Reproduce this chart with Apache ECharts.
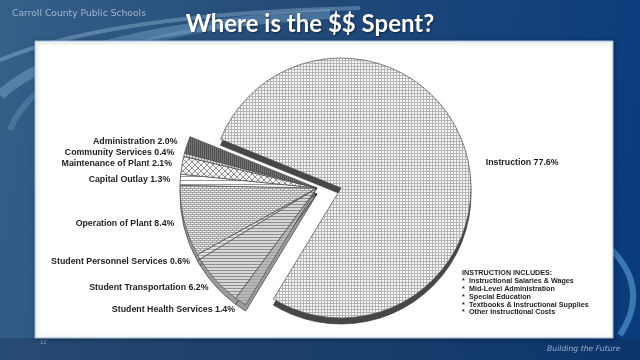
<!DOCTYPE html>
<html><head><meta charset="utf-8">
<script src="https://cdn.jsdelivr.net/npm/echarts@6/dist/echarts.min.js"></script>
<style>html,body{margin:0;padding:0;background:#2a4d78}#c{width:640px;height:360px}</style>
</head><body><div id="c"></div>
<script>
// ---- data ----
const categories = ['Instruction','Student Health Services','Student Transportation','Student Personnel Services','Operation of Plant','Capital Outlay','Maintenance of Plant','Community Services','Administration'];
const values = [77.6, 1.4, 6.2, 0.6, 8.4, 1.3, 2.1, 0.4, 2.0];
const includesTitle = 'INSTRUCTION INCLUDES:';
const includesItems = ['Instructional Salaries & Wages','Mid-Level Administration','Special Education','Textbooks & Instructional Supplies','Other Instructional Costs'];

// ---- patterns ----
function pat(size, bg, draw){
  const c=document.createElement('canvas'); c.width=c.height=size;
  const g=c.getContext('2d'); g.fillStyle=bg; g.fillRect(0,0,size,size); draw(g,size);
  return {image:c, repeat:'repeat'};
}
const patterns = {
  grid: pat(3,'#f8f8f8',(g,s)=>{g.fillStyle='#b4b4b4';g.fillRect(0,0,s,1);g.fillRect(0,0,1,s);}),
  health: pat(3,'#b8b8b8',(g,s)=>{g.fillStyle='#a0a0a0';g.fillRect(0,0,s,1);}),
  trans: pat(3,'#d6d6d6',(g,s)=>{g.fillStyle='#8e8e8e';g.fillRect(0,0,s,1);}),
  pers: pat(3,'#e2e2e2',(g,s)=>{g.fillStyle='#a0a0a0';g.fillRect(0,0,s,1);}),
  op: pat(4,'#ececec',(g,s)=>{g.fillStyle='#a4a4a4';g.fillRect(0,0,s,1);g.fillRect(0,2,s,1);g.fillRect(0,0,1,2);g.fillRect(2,2,1,2);}),
  cap: pat(4,'#ffffff',(g,s)=>{g.fillStyle='#9a9a9a';g.fillRect(0,0,s,1);}),
  maint: pat(6,'#f4f4f4',(g,s)=>{g.strokeStyle='#777';g.lineWidth=0.8;g.beginPath();g.moveTo(0,0);g.lineTo(s,s);g.moveTo(s,0);g.lineTo(0,s);g.stroke();}),
  comm: pat(3,'#dcdcdc',(g,s)=>{g.fillStyle='#888';g.fillRect(0,0,1,s);}),
  admin: pat(2,'#737373',(g,s)=>{g.fillStyle='#505050';g.fillRect(0,0,1,s);})
};
const fills = [patterns.grid, patterns.health, patterns.trans, patterns.pers, patterns.op, patterns.cap, patterns.maint, patterns.comm, patterns.admin];

const START = 158;
const restC = [317, 188], restR = 137;
const instrC = [341, 188], instrR = 130;
const depth = 6;
const labelFont = {fontFamily:'Liberation Sans', fontWeight:'bold', fontSize:8.8, color:'#1e1e1e'};

function makeData(mode){
  return categories.map((name,i)=>{
    const isInstr = i===0;
    const visible = mode.startsWith('instr') ? isInstr : !isInstr;
    const top = mode.endsWith('Top');
    const item = {name, value: values[i]};
    if(!visible){
      item.itemStyle = {color:'rgba(0,0,0,0)', borderWidth:0};
      item.label = {show:false};
    } else if(top){
      item.itemStyle = {color: fills[i], borderColor:'#4a4a4a', borderWidth:0.7};
    } else {
      item.itemStyle = {color: isInstr ? '#474747' : '#9c9c9c', borderColor:'#3a3a3a', borderWidth:0.7};
    }
    return item;
  });
}
function pie(mode, center, R, z, extra){
  const top = mode.endsWith('Top');
  return Object.assign({
    type:'pie', radius:[0,R], center, startAngle:START, clockwise:true, z,
    silent:true, animation:false, avoidLabelOverlap:true,
    label: top ? Object.assign({show:true, position:'outside', distanceToLabelLine:0, formatter: p=>p.name+' '+p.value.toFixed(1)+'%'}, labelFont) : {show:false},
    labelLine:{show:false, length:10, length2:0},
    emphasis:{disabled:true},
    data: makeData(mode)
  }, extra||{});
}

const chart = echarts.init(document.getElementById('c'), null, {renderer:'canvas'});
function curve(x1,y1,cx,cy,x2,y2,stroke,w){
  return {type:'bezierCurve', shape:{x1,y1,x2,y2,cpx1:cx,cpy1:cy}, style:{stroke, lineWidth:w, fill:null}, z:-99};
}
const bgEls = [
  {type:'rect', shape:{x:0,y:0,width:640,height:360}, style:{fill:new echarts.graphic.LinearGradient(0,0,1,0.3,[{offset:0,color:'#35608a'},{offset:0.45,color:'#244a78'},{offset:1,color:'#0a3c7c'}])}, z:-100},
  curve(0,95,70,30,330,14,'rgba(160,210,240,0.3)',10),
  curve(0,60,110,14,360,8,'rgba(190,225,245,0.3)',4),
  curve(10,130,40,50,250,22,'rgba(150,200,235,0.22)',6),
  curve(612,250,650,290,620,335,'rgba(120,190,240,0.45)',6),
  {type:'rect', shape:{x:0,y:338,width:640,height:22}, style:{fill:'rgba(20,45,80,0.35)'}, z:-98},
  {type:'text', x:12, y:14, style:{text:'Carroll County Public Schools', fill:'rgba(205,220,235,0.7)', font:'9.2px "DejaVu Sans"', textVerticalAlign:'middle'}, z:-90},
  {type:'text', x:310, y:24, style:{text:'Where is the $$ Spent?', fill:'#ffffff', font:'bold 24px Lato', textAlign:'center', textVerticalAlign:'middle', textShadowColor:'rgba(0,0,0,0.5)', textShadowBlur:2, textShadowOffsetX:1, textShadowOffsetY:1}, z:-90},
  {type:'text', x:547, y:349, style:{text:'Building the Future', fill:'rgba(170,195,220,0.85)', font:'italic 7.7px "DejaVu Sans"', textVerticalAlign:'middle'}, z:-90},
  {type:'text', x:40, y:342, style:{text:'12', fill:'rgba(170,195,220,0.7)', font:'6px "Liberation Sans"', textVerticalAlign:'middle'}, z:-90},
  {type:'rect', shape:{x:35,y:41,width:578,height:297}, style:{fill:'#ffffff', stroke:'#9fbfe0', lineWidth:1, shadowColor:'rgba(0,0,0,0.35)', shadowBlur:4, shadowOffsetX:1, shadowOffsetY:1}, z:-80},
  {type:'text', x:462, y:273, style:{text:includesTitle, fill:'#1e1e1e', font:'bold 7.2px "Liberation Sans"', textVerticalAlign:'middle'}, z:10}
];
includesItems.forEach((t,i)=>{
  const y = 281.5 + i*7.7;
  bgEls.push({type:'text', x:462, y, style:{text:'*', fill:'#1e1e1e', font:'bold 7.2px "Liberation Sans"', textVerticalAlign:'middle'}, z:10});
  bgEls.push({type:'text', x:469, y, style:{text:t, fill:'#1e1e1e', font:'bold 7.2px "Liberation Sans"', textVerticalAlign:'middle'}, z:10});
});

chart.setOption({
  animation:false,
  graphic:{elements:bgEls},
  series:[
    pie('restDepth', [restC[0], restC[1]+depth], restR, 1),
    pie('instrDepth', [instrC[0], instrC[1]+depth], instrR, 1),
    pie('restTop', restC, restR, 2),
    pie('instrTop', instrC, instrR, 2, {labelLine:{show:false, length:14, length2:0}, labelLayout: p => ({dx: 8, dy: 20})})
  ]
});
</script></body></html>
